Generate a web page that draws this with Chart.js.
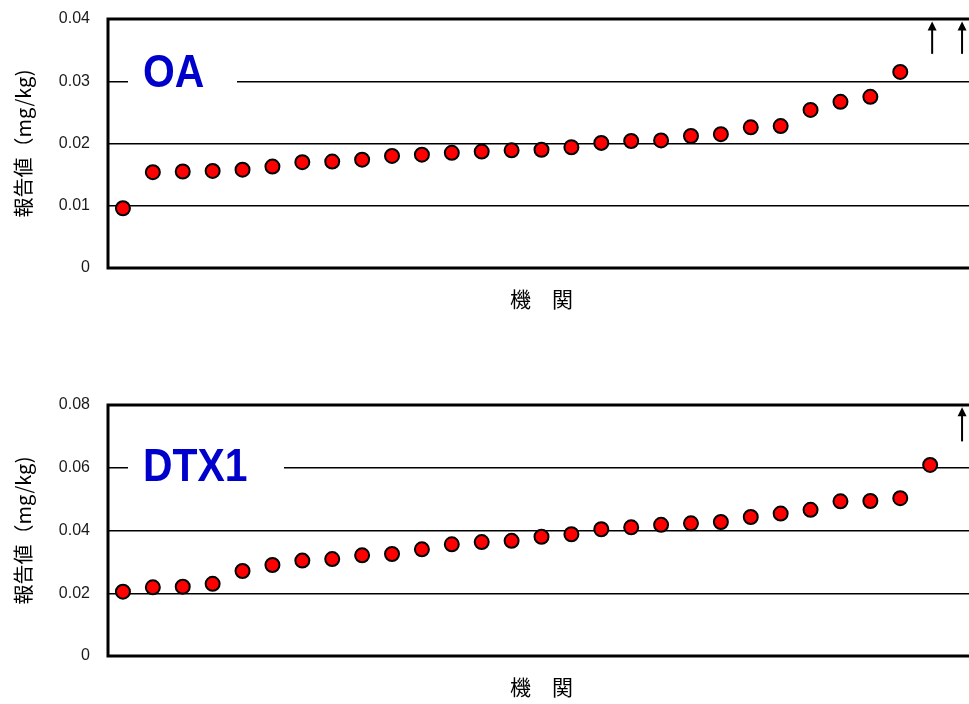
<!DOCTYPE html>
<html lang="ja">
<head>
<meta charset="utf-8">
<title>OA / DTX1 報告値</title>
<script src="https://cdn.jsdelivr.net/npm/chart.js@4"></script>
<style>
  html, body { margin: 0; padding: 0; background: #fff; overflow: hidden; }
  body { width: 969px; height: 704px; position: relative; }
  canvas { position: absolute; left: 0; }
  #chartOA { top: 0; }
  #chartDTX { top: 388px; }
</style>
</head>
<body>
<canvas id="chartOA" width="984" height="320"></canvas>
<canvas id="chartDTX" width="984" height="320"></canvas>
<script>
// 機関 (29 labs, sorted by reported value)
const labs = ['1', '2', '3', '4', '5', '6', '7', '8', '9', '10',
              '11', '12', '13', '14', '15', '16', '17', '18', '19', '20',
              '21', '22', '23', '24', '25', '26', '27', '28', '29'];

const oaValues = [0.0096, 0.0154, 0.0155, 0.0156, 0.0158, 0.0163, 0.0170, 0.0171, 0.0174, 0.0180,
                  0.0182, 0.0185, 0.0187, 0.0189, 0.0190, 0.0194, 0.0201, 0.0204, 0.0205, 0.0212,
                  0.0215, 0.0226, 0.0228, 0.0254, 0.0267, 0.0275, 0.0315];
const dtxValues = [0.0205, 0.0219, 0.0221, 0.0230, 0.0271, 0.0290, 0.0304, 0.0309, 0.0321, 0.0325,
                   0.0340, 0.0356, 0.0363, 0.0367, 0.0380, 0.0388, 0.0404, 0.0410, 0.0418, 0.0423,
                   0.0427, 0.0443, 0.0454, 0.0466, 0.0493, 0.0494, 0.0503, 0.0609];

const oaTicks = ['0', '0.01', '0.02', '0.03', '0.04'];
const dtxTicks = ['0', '0.02', '0.04', '0.06', '0.08'];

// labs whose value is above the axis maximum (drawn as arrows)
const oaOver = ['28', '29'];
const dtxOver = ['29'];
const oaArrow = [0.0344, 0.0396];
const dtxArrow = [0.0684, 0.0793];

const frame = {
  id: 'frame',
  beforeDatasetsDraw(chart, args, opts) {
    const { ctx, chartArea: a } = chart;
    ctx.save();
    ctx.lineWidth = 3;
    ctx.strokeStyle = '#000';
    ctx.strokeRect(a.left, a.top, a.right - a.left, a.bottom - a.top);

    // analyte name on a white box over the grid line
    const t = opts.label;
    ctx.fillStyle = '#fff';
    ctx.fillRect(t.boxLeft, t.y - 40, t.boxRight - t.boxLeft, 48);
    ctx.translate(t.x, t.y);
    ctx.scale(0.87, 1);
    ctx.font = 'bold 47px Arial, "Liberation Sans", sans-serif';
    ctx.fillStyle = '#0000cc';
    ctx.textBaseline = 'alphabetic';
    ctx.fillText(t.text, 0, 0);
    ctx.restore();
  },
  afterDatasetsDraw(chart, args, opts) {
    const { ctx } = chart;
    const x = chart.scales.x, y = chart.scales.y;
    const y0 = y.getPixelForValue(opts.arrow[0]);
    const y1 = y.getPixelForValue(opts.arrow[1]);
    ctx.save();
    ctx.strokeStyle = '#000';
    ctx.fillStyle = '#000';
    ctx.lineWidth = 2;
    opts.over.forEach(function(lab) {
      const px = x.getPixelForValue(labs.indexOf(lab)) + 2;
      ctx.beginPath();
      ctx.moveTo(px, y0);
      ctx.lineTo(px, y1 + 7);
      ctx.stroke();
      ctx.beginPath();
      ctx.moveTo(px, y1);
      ctx.lineTo(px - 4.5, y1 + 9);
      ctx.lineTo(px + 4.5, y1 + 9);
      ctx.closePath();
      ctx.fill();
    });
    ctx.restore();
  }
};

function makeChart(id, values, ticks, max, step, padTop, label, over, arrow) {
  return new Chart(document.getElementById(id), {
    type: 'line',
    data: {
      labels: labs,
      datasets: [{
        data: values,
        showLine: false,
        pointRadius: 7,
        pointHoverRadius: 7,
        pointBackgroundColor: '#ff0000',
        pointBorderColor: '#000',
        pointBorderWidth: 2
      }]
    },
    options: {
      responsive: false,
      animation: false,
      layout: { padding: { top: padTop, right: 6, bottom: 0, left: 0 } },
      plugins: {
        legend: { display: false },
        tooltip: { enabled: false },
        frame: { label: label, over: over, arrow: arrow }
      },
      scales: {
        x: {
          offset: true,
          grid: { display: false, drawTicks: false },
          border: { display: false },
          ticks: { display: false },
          title: {
            display: true,
            text: '機　関',
            color: '#000',
            font: { family: '"Noto Sans CJK JP", sans-serif', size: 21 },
            padding: { top: 18, bottom: 8.4 }
          },
          afterFit(scale) { scale.height = 52; }
        },
        y: {
          min: 0,
          max: max,
          grid: { color: '#000', lineWidth: 1.5, drawTicks: false },
          border: { display: false },
          ticks: {
            stepSize: step,
            padding: 18,
            color: '#1a1a1a',
            font: { family: 'Arial, "Liberation Sans", sans-serif', size: 16 },
            callback: function(v, i) { return ticks[i]; }
          },
          title: {
            display: true,
            text: '報告値（mg/kg)',
            color: '#000',
            font: { family: '"Noto Sans CJK JP", sans-serif', size: 20 },
            padding: { top: 11, bottom: 0 }
          },
          afterFit(scale) {
            scale.width = 108;
            scale.paddingTop = 0;
            scale.paddingBottom = 0;
          }
        }
      }
    },
    plugins: [frame]
  });
}

document.addEventListener('DOMContentLoaded', function() {
  makeChart('chartOA', oaValues, oaTicks, 0.04, 0.01, 19,
    { text: 'OA', x: 143, y: 87, boxLeft: 128, boxRight: 237 }, oaOver, oaArrow);
  makeChart('chartDTX', dtxValues, dtxTicks, 0.08, 0.02, 17,
    { text: 'DTX1', x: 143, y: 92.7, boxLeft: 128, boxRight: 284 }, dtxOver, dtxArrow);
});
</script>
</body>
</html>
